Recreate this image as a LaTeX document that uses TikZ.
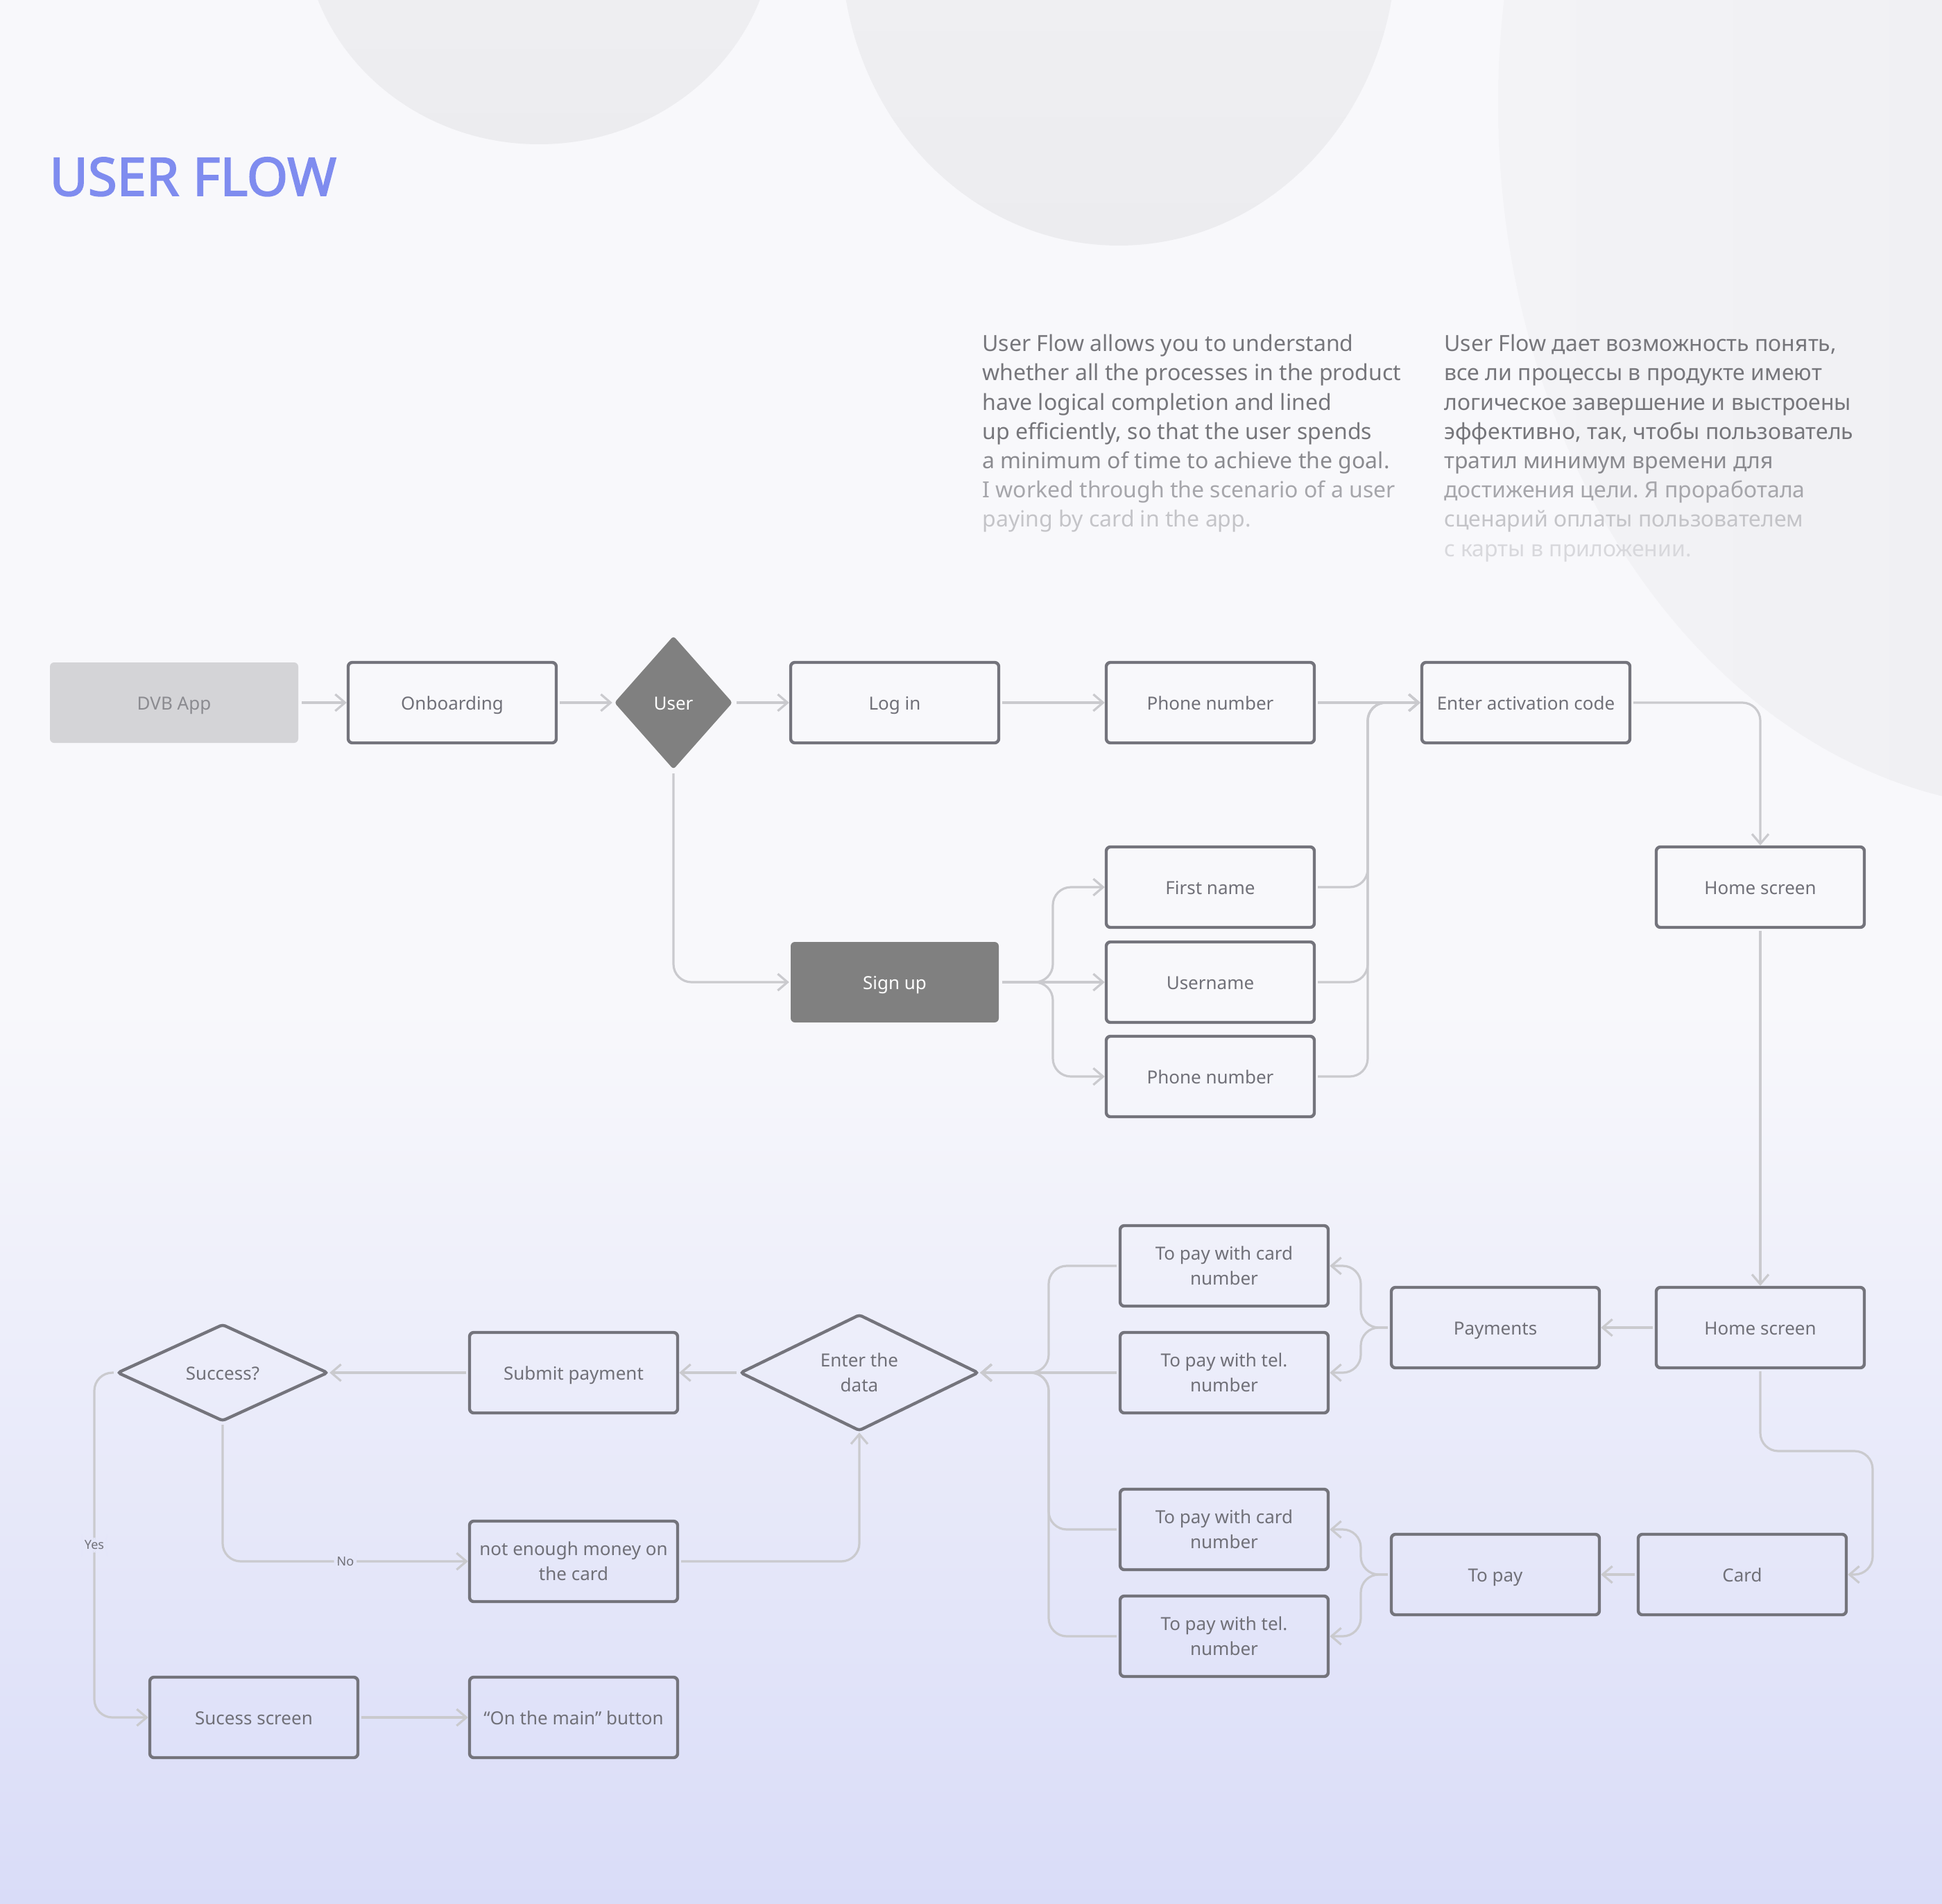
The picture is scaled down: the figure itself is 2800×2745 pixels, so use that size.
\documentclass[tikz,border=0pt]{standalone}
\usepackage{fontspec}
\setmainfont{Noto Sans}[AutoFakeBold=2.5]
\usetikzlibrary{shapes.geometric, arrows.meta}
\frenchspacing

\definecolor{bgtop}{HTML}{F8F8FB}
\definecolor{bgbot}{HTML}{D9DCF8}
\definecolor{blobA}{HTML}{F3F3F6}
\definecolor{blobB}{HTML}{ECECEF}
\definecolor{titleblue}{HTML}{7F8CEF}
\definecolor{boxline}{HTML}{74747C}
\definecolor{boxtext}{HTML}{707078}
\definecolor{darkfill}{HTML}{808080}
\definecolor{appfill}{HTML}{D4D4D7}
\definecolor{apptext}{HTML}{8B8B90}
\definecolor{linegray}{HTML}{CACACE}
\definecolor{lblbg}{HTML}{E4E6F9}
\definecolor{txA}{HTML}{76767B}
\definecolor{txB}{HTML}{8A8A8F}
\definecolor{txC}{HTML}{A6A6AB}
\definecolor{txD}{HTML}{C4C4C8}
\definecolor{txE}{HTML}{D8D8DC}

\begin{document}
\begin{tikzpicture}[x=0.5pt, y=-0.5pt,
        box/.style={rectangle, draw=boxline, line width=2.2pt, rounded corners=3pt, minimum width=150pt, minimum height=58pt, inner sep=0pt, align=center, text=boxtext, font=\fontsize{13}{18}\selectfont, text height=11.5pt, text depth=1.3pt},
        twolines/.style={text height={}, text depth={}},
        darkbox/.style={box, draw=none, fill=darkfill, text=white},
        choice/.style={diamond, draw=boxline, line width=2.2pt, rounded corners=2pt, inner sep=0pt, align=center, text=boxtext, font=\fontsize{13}{18}\selectfont, text height=11.5pt, text depth=1.3pt},
        flow/.style={draw=linegray, line width=1.6pt, rounded corners=13pt, -{Straight Barb[length=7pt, width=12pt]}, shorten <=1.5pt},
        lbl/.style={fill=lblbg, inner sep=2pt, text=boxtext, font=\fontsize{9}{10}\selectfont},
        para/.style={anchor=north west, align=left, inner sep=0pt, font=\fontsize{16}{21.1}\selectfont},
    ]
    % page and background
    \clip (0,0) rectangle (2800,2745);
    \useasboundingbox (0,0) rectangle (2800,2745);
    \fill[bgtop] (0,0) rectangle (2800,1450);
    \shade[top color=bgtop, bottom color=bgbot] (0,1450) rectangle (2800,2745);
    \shade[top color=blobA, bottom color=blobB] (777,-112) ellipse [x radius=170pt, y radius=160pt];
    \shade[top color=blobA, bottom color=blobB] (1613,-80) ellipse [x radius=200pt, y radius=217pt];
    \shade[left color=blobA, right color=blobB] (2950,150) ellipse [x radius=395pt, y radius=508pt];

    % title and description
    \node[anchor=base west, inner sep=0pt, text=titleblue, font=\fontsize{38}{40}\selectfont\bfseries] (title) at (71,282) {USER FLOW};
    \node[para] (en) at (1416,482) {\textcolor{txA}{User Flow allows you to understand}\\
        \textcolor{txA}{whether all the processes in the product}\\
        \textcolor{txA}{have logical completion and lined}\\
        \textcolor{txA}{up efficiently, so that the user spends}\\
        \textcolor{txB}{a minimum of time to achieve the goal.}\\
        \textcolor{txC}{I worked through the scenario of a user}\\
        \textcolor{txD}{paying by card in the app.}};
    \node[para] (ru) at (2082,482) {\textcolor{txA}{User Flow дает возможность понять,}\\
        \textcolor{txA}{все ли процессы в продукте имеют}\\
        \textcolor{txA}{логическое завершение и выстроены}\\
        \textcolor{txA}{эффективно, так, чтобы пользователь}\\
        \textcolor{txB}{тратил минимум времени для}\\
        \textcolor{txC}{достижения цели. Я проработала}\\
        \textcolor{txD}{сценарий оплаты пользователем}\\
        \textcolor{txE}{с карты в приложении.}};

    % entry row
    \node[box, draw=none, fill=appfill, text=apptext, minimum width=179pt] (dvb) at (251,1013) {DVB App};
    \node[box] (onboard) at (652,1013) {Onboarding};
    \node[choice, draw=none, fill=darkfill, text=white, minimum width=86pt, minimum height=97pt] (user) at (971,1013) {User};
    \node[box] (login) at (1290,1013) {Log in};
    \node[box] (phone) at (1745,1013) {Phone number};
    \node[box] (code) at (2200,1013) {Enter activation code};
    \node[box] (home) at (2538,1279) {Home screen};

    % sign up branch
    \node[darkbox] (signup) at (1290,1416) {Sign up};
    \node[box] (first) at (1745,1279) {First name};
    \node[box] (uname) at (1745,1416) {Username};
    \node[box] (phonesu) at (1745,1552) {Phone number};

    % payment part
    \node[box] (homepay) at (2538,1914) {Home screen};
    \node[box] (payments) at (2156,1914) {Payments};
    \node[box, twolines] (cardnum) at (1765,1825) {To pay with card\\number};
    \node[box, twolines] (telnum) at (1765,1979) {To pay with tel.\\number};
    \node[box] (card) at (2512,2270) {Card};
    \node[box] (topay) at (2156,2270) {To pay};
    \node[box, twolines] (cardnumb) at (1765,2205) {To pay with card\\number};
    \node[box, twolines] (telnumb) at (1765,2359) {To pay with tel.\\number};

    % result part
    \node[choice, twolines, minimum width=172pt, minimum height=81pt] (data) at (1239,1979) {Enter the\\data};
    \node[box] (submit) at (827,1979) {Submit payment};
    \node[choice, minimum width=152pt, minimum height=70pt] (success) at (321,1979) {Success?};
    \node[box, twolines] (nomoney) at (827,2251) {not enough money on\\the card};
    \node[box] (done) at (366,2476) {Sucess screen};
    \node[box] (mainbtn) at (827,2476) {“On the main” button};

    % junctions
    \coordinate (jcode) at (1972,1013);
    \coordinate (jsign) at (1518,1416);
    \coordinate (jcard) at (2700,2092);
    \coordinate (jpay) at (1962,1914);
    \coordinate (jtopay) at (1962,2270);
    \coordinate (jdata) at (1512,1979);
    \coordinate (jyes) at (136,1979);

    % connectors
    \draw[flow] (dvb.east) -- (onboard.west);
    \draw[flow] (onboard.east) -- (user.west);
    \draw[flow] (user.east) -- (login.west);
    \draw[flow] (user.south) |- (signup.west);
    \draw[flow] (login.east) -- (phone.west);
    \draw[flow] (phone.east) -- (code.west);
    \draw[flow] (signup.east) -- (jsign) |- (first.west);
    \draw[flow] (signup.east) -- (uname.west);
    \draw[flow] (signup.east) -- (jsign) |- (phonesu.west);
    \draw[flow] (first.east) -| (jcode) -- (code.west);
    \draw[flow] (uname.east) -| (jcode) -- (code.west);
    \draw[flow] (phonesu.east) -| (jcode) -- (code.west);
    \draw[flow] (code.east) -| (home.north);
    \draw[flow] (home.south) -- (homepay.north);
    \draw[flow] (homepay.west) -- (payments.east);
    \draw[flow] (homepay.south) |- (jcard) |- (card.east);
    \draw[flow] (card.west) -- (topay.east);
    \draw[flow] (payments.west) -- (jpay) |- (cardnum.east);
    \draw[flow] (payments.west) -- (jpay) |- (telnum.east);
    \draw[flow] (topay.west) -- (jtopay) |- (cardnumb.east);
    \draw[flow] (topay.west) -- (jtopay) |- (telnumb.east);
    \draw[flow] (cardnum.west) -| (jdata) -- (data.east);
    \draw[flow] (telnum.west) -- (data.east);
    \draw[flow] (cardnumb.west) -| (jdata) -- (data.east);
    \draw[flow] (telnumb.west) -| (jdata) -- (data.east);
    \draw[flow] (data.west) -- (submit.east);
    \draw[flow] (submit.west) -- (success.east);
    \draw[flow] (success.south) |- node[lbl, pos=0.75] (no) {No} (nomoney.west);
    \draw[flow] (nomoney.east) -| (data.south);
    \draw[flow] (success.west) -- (jyes) |- node[lbl, pos=0.25] (yes) {Yes} (done.west);
    \draw[flow] (done.east) -- (mainbtn.west);
\end{tikzpicture}
\end{document}
